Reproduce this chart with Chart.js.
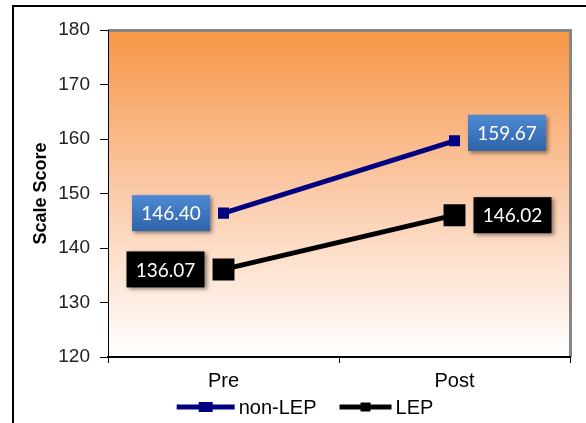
<!DOCTYPE html>
<html>
<head>
<meta charset="utf-8">
<script src="https://cdn.jsdelivr.net/npm/chart.js@4/dist/chart.umd.min.js"></script>
<style>
  html, body { margin: 0; padding: 0; background: #fff; }
  canvas { display: block; }
</style>
</head>
<body>
<canvas id="chart" width="586" height="423"></canvas>
<script>
// Scale scores before and after, by language status
const categories = ['Pre', 'Post'];
const seriesNames = ['non-LEP', 'LEP'];
const nonLepScores = [146.40, 159.67];
const lepScores = [136.07, 146.02];
const yTickValues = [120, 130, 140, 150, 160, 170, 180];

const SANS = '"Liberation Sans", Arial, sans-serif';
const LABEL_FONT = 'Lato, "Open Sans", sans-serif';

// Frame, plot background gradient and plot border
const backdrop = {
  id: 'backdrop',
  beforeDraw(chart) {
    const { ctx, chartArea: a } = chart;
    ctx.save();
    ctx.fillStyle = '#fff';
    ctx.fillRect(0, 0, chart.width, chart.height);
    // outer frame (top and left)
    ctx.fillStyle = '#000';
    ctx.fillRect(12, 5, chart.width - 12, 2);
    ctx.fillRect(12, 5, 2, chart.height - 5);
    // plot area gradient
    const grad = ctx.createLinearGradient(0, a.top, 0, a.bottom);
    grad.addColorStop(0, '#F79646');
    grad.addColorStop(0.5, '#FBCBAA');
    grad.addColorStop(1, '#FFFFFF');
    ctx.fillStyle = grad;
    ctx.fillRect(a.left, a.top, a.right - a.left, a.bottom - a.top);
    // grey border along top and right
    ctx.fillStyle = '#868686';
    ctx.fillRect(a.left, a.top - 1, a.right - a.left + 2, 3);
    ctx.fillRect(a.right - 1, a.top - 1, 3, a.bottom - a.top + 1);
    ctx.restore();
  }
};

// Value boxes next to each point
const valueBoxes = {
  id: 'valueBoxes',
  afterDatasetsDraw(chart, args, opts) {
    const { ctx } = chart;
    chart.data.datasets.forEach((ds, di) => {
      const meta = chart.getDatasetMeta(di);
      const style = opts.styles[di];
      meta.data.forEach((pt, i) => {
        const value = ds.data[i];
        const w = 78, h = 36;
        const gap = style.markerHalf + 8;
        const x = i === 0 ? pt.x - gap - w : pt.x + gap;
        const nudge = (style.nudge && style.nudge[i]) || 0;
        const y = pt.y - h / 2 + nudge;
        ctx.save();
        ctx.shadowColor = 'rgba(0,0,0,0.45)';
        ctx.shadowBlur = 4;
        ctx.shadowOffsetX = 2;
        ctx.shadowOffsetY = 2;
        if (style.gradient) {
          const g = ctx.createLinearGradient(0, y, 0, y + h);
          g.addColorStop(0, style.gradient[0]);
          g.addColorStop(1, style.gradient[1]);
          ctx.fillStyle = g;
        } else {
          ctx.fillStyle = style.fill;
        }
        ctx.fillRect(x, y, w, h);
        ctx.restore();
        ctx.save();
        ctx.fillStyle = '#fff';
        ctx.font = '19px ' + LABEL_FONT;
        ctx.textAlign = 'center';
        ctx.textBaseline = 'middle';
        ctx.fillText(value.toFixed(2), x + w / 2, y + h / 2 + 1);
        ctx.restore();
      });
    });
  }
};

// Legend under the axis: line-and-marker symbol followed by the series name
const lineLegend = {
  id: 'lineLegend',
  afterDraw(chart, args, opts) {
    const { ctx } = chart;
    ctx.save();
    ctx.font = opts.font;
    ctx.textBaseline = 'middle';
    ctx.textAlign = 'left';
    const items = chart.data.datasets.map((ds, i) => ({
      text: ds.label,
      color: ds.borderColor,
      sym: opts.symbols[i],
      tw: ctx.measureText(ds.label).width
    }));
    let total = 0;
    items.forEach((it, i) => {
      total += it.sym.w + opts.textGap + it.tw + (i < items.length - 1 ? opts.itemGap : 0);
    });
    let x = opts.centerX - total / 2;
    const y = opts.y;
    items.forEach(it => {
      ctx.fillStyle = it.color;
      ctx.fillRect(x, y - it.sym.lineW / 2, it.sym.w, it.sym.lineW);
      ctx.fillRect(x + (it.sym.w - it.sym.mw) / 2, y - it.sym.mh / 2, it.sym.mw, it.sym.mh);
      x += it.sym.w + opts.textGap;
      ctx.fillStyle = '#000';
      ctx.fillText(it.text, x, y + 1);
      x += it.tw + opts.itemGap;
    });
    ctx.restore();
  }
};

new Chart(document.getElementById('chart'), {
  type: 'line',
  data: {
    labels: categories,
    datasets: [
      {
        label: seriesNames[0],
        data: nonLepScores,
        borderColor: '#000080',
        backgroundColor: '#000080',
        borderWidth: 5,
        pointStyle: 'rect',
        pointRadius: 7.8,
        pointBorderWidth: 0,
        pointBackgroundColor: '#000080',
        tension: 0
      },
      {
        label: seriesNames[1],
        data: lepScores,
        borderColor: '#000000',
        backgroundColor: '#000000',
        borderWidth: 5,
        pointStyle: 'rect',
        pointRadius: 15.5,
        pointBorderWidth: 0,
        pointBackgroundColor: '#000000',
        tension: 0
      }
    ]
  },
  options: {
    responsive: false,
    animation: false,
    events: [],
    layout: { padding: { top: 30, left: 24, right: 16, bottom: 24 } },
    scales: {
      x: {
        offset: true,
        grid: { offset: true, drawOnChartArea: false, drawTicks: true, tickLength: 6, color: '#000', lineWidth: 1 },
        border: { color: '#000', width: 2 },
        ticks: { color: '#000', font: { family: SANS, size: 20 }, padding: 6 }
      },
      y: {
        min: 120,
        max: 180,
        afterBuildTicks(scale) { scale.ticks = yTickValues.map(v => ({ value: v })); },
        afterFit(scale) { scale.width = 84; },
        grid: { drawOnChartArea: false, drawTicks: true, tickLength: 8, color: '#000', lineWidth: 1 },
        border: { color: '#000', width: 1 },
        ticks: { color: '#222', font: { family: SANS, size: 19 }, padding: 10 },
        title: {
          display: true,
          text: 'Scale Score',
          color: '#000',
          font: { family: SANS, size: 18, weight: 'bold' },
          padding: { top: 6, bottom: 0 }
        }
      }
    },
    plugins: {
      legend: { display: false },
      tooltip: { enabled: false },
      valueBoxes: {
        styles: [
          { gradient: ['#4E8AD4', '#2F63A8'], markerHalf: 5.5, nudge: [0, -8] },
          { fill: '#000000', markerHalf: 11 }
        ]
      },
      lineLegend: {
        font: '20px ' + SANS,
        centerX: 305,
        y: 407,
        textGap: 4,
        itemGap: 23,
        symbols: [
          { w: 58, lineW: 5, mw: 14, mh: 10 },
          { w: 52, lineW: 5, mw: 10, mh: 9 }
        ]
      }
    }
  },
  plugins: [backdrop, valueBoxes, lineLegend]
});
</script>
</body>
</html>
